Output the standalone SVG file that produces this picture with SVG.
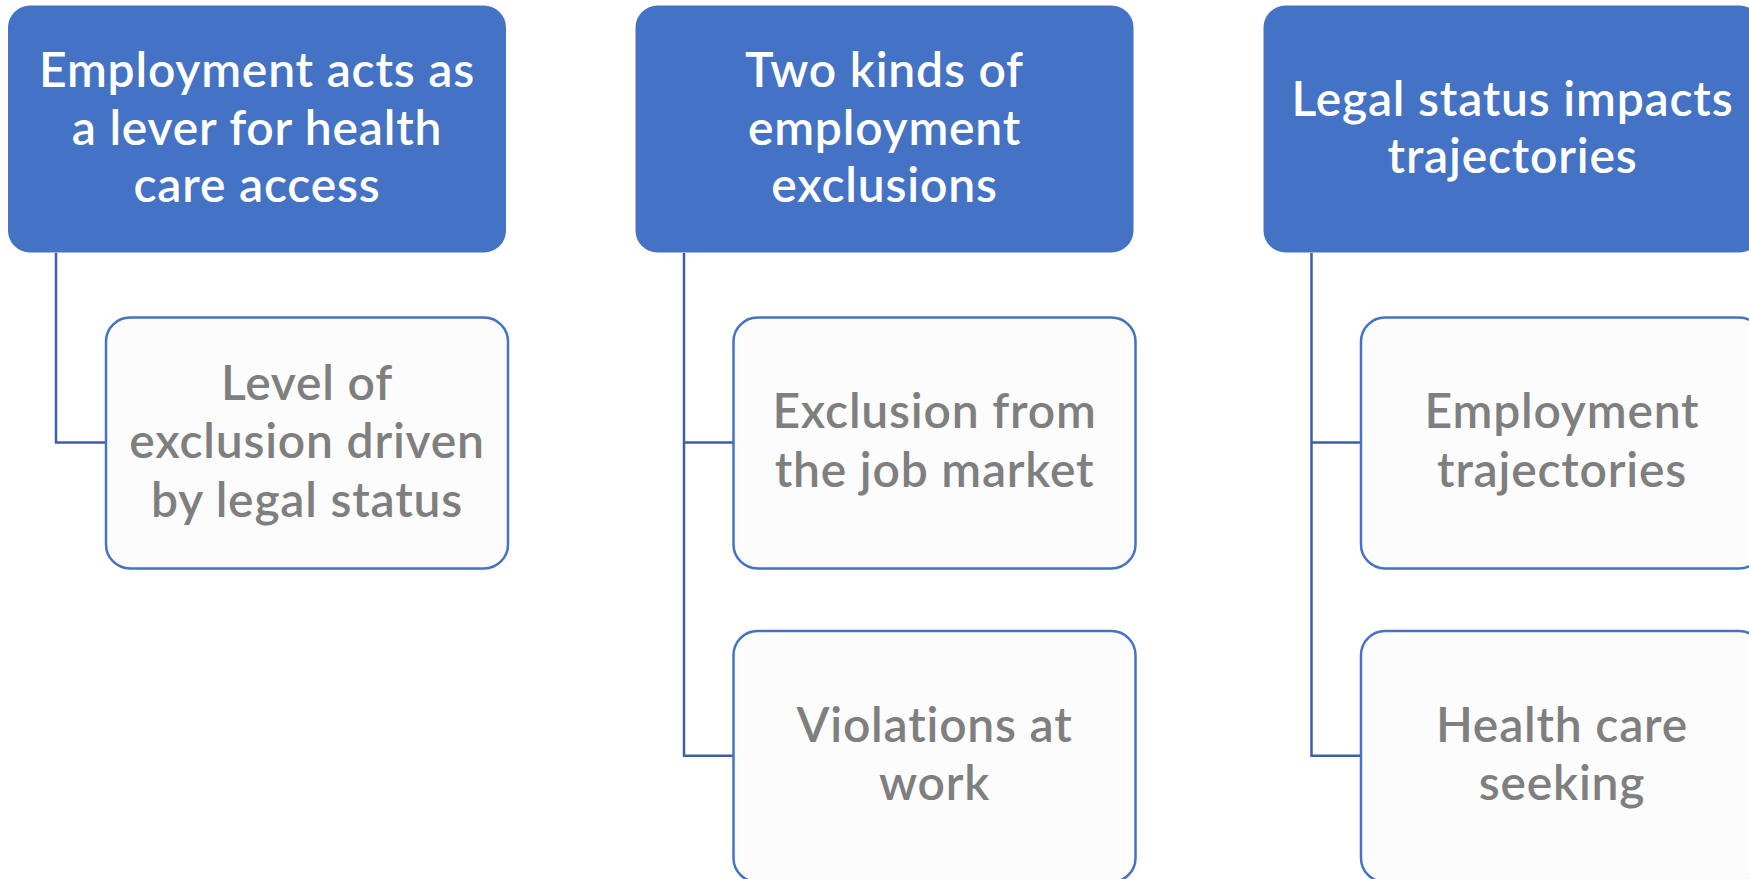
<svg xmlns="http://www.w3.org/2000/svg" width="1749" height="879" viewBox="0 0 1749 879">
<style>
.hdr{fill:#4472C4;}
.child{fill:#FCFCFC;stroke:#4472C4;stroke-width:2.5;}
.ht{fill:#FFFFFF;font-family:Lato,"Open Sans",sans-serif;font-size:48px;font-weight:600;letter-spacing:0.8px;text-anchor:middle;}
.ct{fill:#7F7F7F;font-family:Lato,"Open Sans",sans-serif;font-size:48px;font-weight:600;letter-spacing:0.8px;text-anchor:middle;}
.con{fill:none;stroke:#3C5FA6;stroke-width:2.5;}
</style>
<rect width="1749" height="879" fill="#FFFFFF"/>
<g id="connectors">
<path class="con" d="M56 253 V442.5 H106"/>
<path class="con" d="M684 253 V755.7 H733.5"/>
<path class="con" d="M684 442.5 H733.5"/>
<path class="con" d="M1311.5 253 V755.7 H1361"/>
<path class="con" d="M1311.5 442.5 H1361"/>
</g>
<g id="h1">
<rect class="hdr" x="8" y="5.5" width="498" height="247" rx="22"/>
<text class="ht" x="257" y="87">Employment acts as</text>
<text class="ht" x="257" y="145">a lever for health</text>
<text class="ht" x="257" y="202">care access</text>
</g>
<g id="h2">
<rect class="hdr" x="635.5" y="5.5" width="498" height="247" rx="22"/>
<text class="ht" x="884.5" y="87">Two kinds of</text>
<text class="ht" x="884.5" y="145">employment</text>
<text class="ht" x="884.5" y="202">exclusions</text>
</g>
<g id="h3">
<rect class="hdr" x="1263.5" y="5.5" width="498" height="247" rx="22"/>
<text class="ht" x="1512.5" y="116">Legal status impacts</text>
<text class="ht" x="1512.5" y="173">trajectories</text>
</g>
<g id="c1">
<rect class="child" x="106" y="317.5" width="402" height="251" rx="24"/>
<text class="ct" x="307" y="400">Level of</text>
<text class="ct" x="307" y="458">exclusion driven</text>
<text class="ct" x="307" y="517">by legal status</text>
</g>
<g id="c2">
<rect class="child" x="733.5" y="317.5" width="402" height="251" rx="24"/>
<text class="ct" x="934.5" y="428">Exclusion from</text>
<text class="ct" x="934.5" y="487">the job market</text>
</g>
<g id="c3">
<rect class="child" x="733.5" y="631" width="402" height="251" rx="24"/>
<text class="ct" x="934.5" y="742">Violations at</text>
<text class="ct" x="934.5" y="800">work</text>
</g>
<g id="c4">
<rect class="child" x="1361" y="317.5" width="402" height="251" rx="24"/>
<text class="ct" x="1562" y="428">Employment</text>
<text class="ct" x="1562" y="487">trajectories</text>
</g>
<g id="c5">
<rect class="child" x="1361" y="631" width="402" height="251" rx="24"/>
<text class="ct" x="1562" y="742">Health care</text>
<text class="ct" x="1562" y="800">seeking</text>
</g>
</svg>
